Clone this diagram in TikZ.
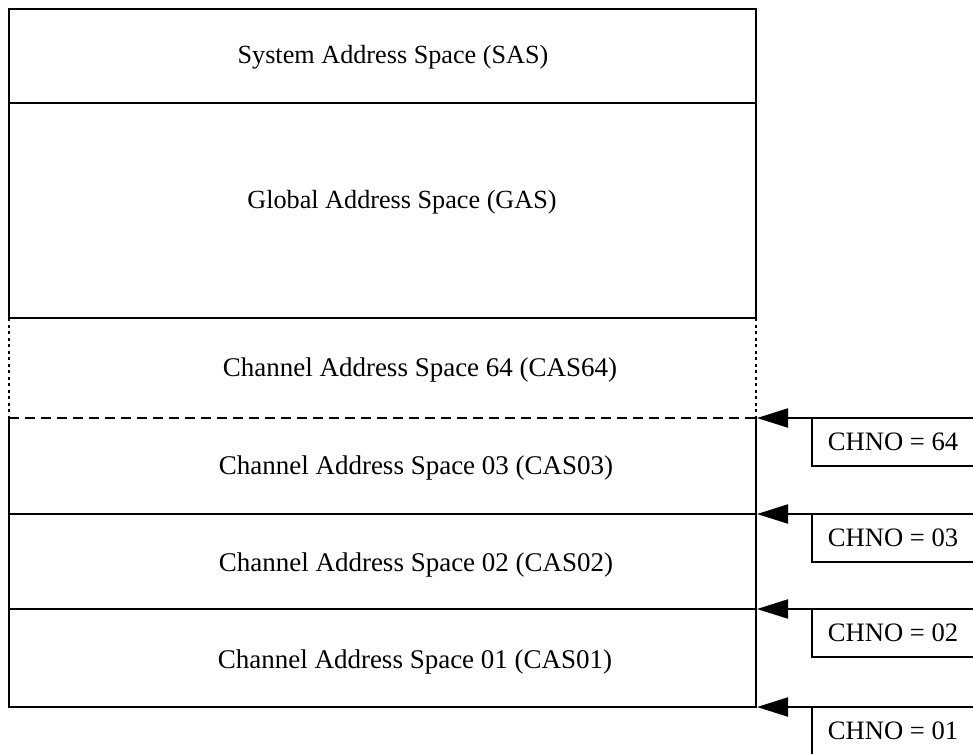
\documentclass[tikz,border=0pt]{standalone}
\usepackage{fontspec}
\setmainfont{Liberation Serif}
\usetikzlibrary{arrows.meta}
\begin{document}
\begin{tikzpicture}[x=1pt,y=-1pt,
  frame/.style={line width=2.1pt},
  label/.style={font=\fontsize{26.2}{30}\selectfont, inner sep=0pt},
  chlabel/.style={font=\fontsize{27}{31}\selectfont, inner sep=0pt},
  chno/.style={font=\fontsize{26.6}{30}\selectfont, inner sep=0pt},
  pointer/.style={line width=2.1pt, -{Triangle[length=31pt,width=19pt]}},
  dotline/.style={line width=2.1pt, dash pattern=on 3pt off 3.5pt},
  dashline/.style={line width=2.1pt, dash pattern=on 10pt off 6pt}]
\useasboundingbox (0,0) rectangle (973,753);

% corner coordinates of the address map
\coordinate (tl) at (9,9);
\coordinate (tr) at (756,9);
\coordinate (l1) at (9,103);   \coordinate (r1) at (756,103);
\coordinate (l2) at (9,318);   \coordinate (r2) at (756,318);
\coordinate (l3) at (9,418);   \coordinate (r3) at (756,418);
\coordinate (l4) at (9,514);   \coordinate (r4) at (756,514);
\coordinate (l5) at (9,609);   \coordinate (r5) at (756,609);
\coordinate (l6) at (9,707);   \coordinate (r6) at (756,707);

% solid upper part: SAS and GAS
\draw[frame] (l2) -- (l1) -- (tl) -- (tr) -- (r1) -- (r2) -- cycle;
\draw[frame] (l1) -- (r1);
% CAS64 region, bounded by dotted sides and a dashed bottom
\draw[dotline] (l2) -- (l3);
\draw[dotline] (r2) -- (r3);
\draw[dashline] (l3) -- (r3);
% solid lower part: CAS03, CAS02, CAS01
\draw[frame] (l3) -- (l6) -- (r6) -- (r3);
\draw[frame] (l4) -- (r4);
\draw[frame] (l5) -- (r5);

% region labels
\node[label] (sas)  at (393,57)  {System Address Space (SAS)};
\node[label] (gas)  at (402,202) {Global Address Space (GAS)};
\node[chlabel] (cas64) at (420,370) {Channel Address Space 64 (CAS64)};
\node[chlabel] (cas03) at (416,468) {Channel Address Space 03 (CAS03)};
\node[chlabel] (cas02) at (416,565) {Channel Address Space 02 (CAS02)};
\node[chlabel] (cas01) at (415,662) {Channel Address Space 01 (CAS01)};

% channel-number pointers
\foreach \y/\n in {418/64, 514/03, 609/02, 707/01} {
  \coordinate (src\n) at (975,\y);
  \coordinate (dst\n) at (757,\y);
  \draw[pointer] (src\n) -- (dst\n);
  \draw[frame] (812,\y) -- (812,\y+48) -- (975,\y+48);
  \node[chno] (chno\n) at (893,\y+24) {CHNO = \n};
}
\end{tikzpicture}
\end{document}
